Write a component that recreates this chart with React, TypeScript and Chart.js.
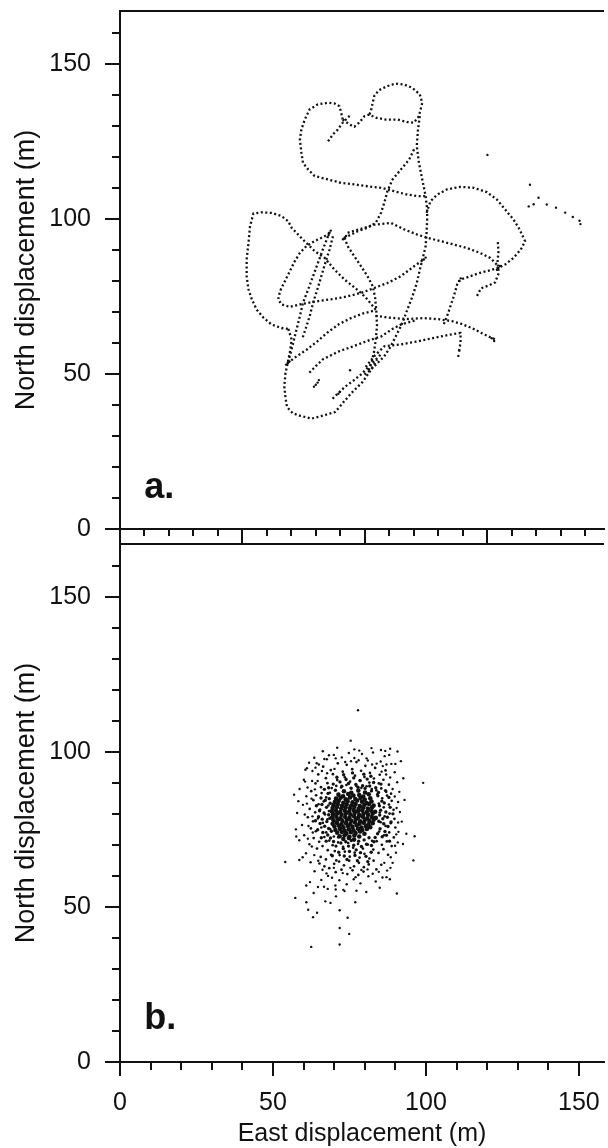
import React, { useEffect, useRef } from 'react';
import { Chart, registerables } from 'chart.js';

Chart.register(...registerables);

const INK = '#111111';
const FONT = '"Liberation Sans", Arial, Helvetica, sans-serif';

// ---------- axes ----------
const X_MIN = 0;
const X_MAX = 158.2;
const Y_MIN = 0;
const Y_MAX = 167;
const yLabelTicks = [0, 50, 100, 150];
const yMinorTicks = [10, 20, 30, 40, 60, 70, 80, 90, 110, 120, 130, 140, 160];
const xLabelTicks = [0, 50, 100, 150];
const xMinorTicks = [10, 20, 30, 40, 60, 70, 80, 90, 110, 120, 130, 140];
const topXMajorTicks = [0, 40, 80, 120];
const topXMinorTicks = [8, 16, 24, 32, 48, 56, 64, 72, 88, 96, 104, 112, 128, 136, 144, 152];
const xTitle = 'East displacement (m)';
const yTitle = 'North displacement (m)';
const panelLabels = ['a.', 'b.'];

type Pt = [number, number];

// ---------- panel a: dotted track (path vertices) ----------
const trackTail: Pt[] = [[68.0,125.0],[69.6,127.2],[71.2,128.8],[72.8,131.0],[74.4,132.6],[75.5,133.6]];
const trackLeftLobe: Pt[] = [[72.8,132.0],[72.3,134.2],[71.7,136.3],[70.1,137.2],[68.0,137.4],[64.7,136.9],[62.0,135.3],[60.4,132.0],[59.3,128.8],[58.8,125.6],[59.3,121.3],[59.8,118.1],[61.5,115.9],[63.6,113.8],[68.0,112.7],[72.3,111.6],[76.6,111.1],[80.9,110.5],[85.3,110.0],[89.6,108.9],[93.9,107.8],[97.7,107.3],[100.4,107.3]];
const trackHeart: Pt[] = [[72.8,132.0],[75.0,130.4],[76.6,129.7],[78.2,131.0],[79.9,133.1],[81.5,133.6],[83.6,132.6],[86.9,132.0],[90.7,132.0],[93.9,131.2],[96.1,131.0],[97.7,133.1],[98.8,137.4],[98.0,140.1],[95.6,142.2],[92.9,143.3],[90.1,143.6],[87.4,142.8],[84.7,141.5],[83.1,139.6],[82.6,137.4],[82.0,134.7],[81.5,133.6]];
const trackEastDescent: Pt[] = [[98.0,133.1],[97.4,128.8],[97.0,123.4],[97.7,118.1],[98.8,112.7],[99.9,107.3],[100.4,103.0],[100.4,99.8],[100.2,95.5],[99.9,91.2],[99.1,87.9],[98.0,83.6],[97.0,79.3],[95.6,75.0],[93.9,70.7],[92.3,66.4],[90.7,63.2],[88.5,58.9],[86.4,55.7],[84.2,53.5],[82.0,51.4],[79.9,49.8]];
const trackDiagonal: Pt[] = [[96.1,122.4],[94.5,119.1],[91.8,115.9],[89.1,112.7],[87.4,108.9],[86.4,105.2],[85.3,101.9],[83.6,98.7],[80.9,97.1],[77.7,96.0],[75.5,94.9],[73.4,93.9]];
const trackCentreEast: Pt[] = [[74.4,95.5],[78.8,96.8],[83.1,98.1],[88.5,98.7],[92.9,96.6],[97.2,94.9],[100.4,93.9],[104.8,92.8],[109.1,91.7],[113.4,90.6],[117.7,89.0],[121.0,87.4],[123.7,84.7]];
const trackEastLoop: Pt[] = [[100.2,101.9],[101.5,105.7],[103.7,107.8],[106.9,109.5],[111.3,110.3],[115.6,110.0],[119.9,108.6],[123.2,106.2],[125.9,103.0],[128.6,99.8],[130.6,96.6],[132.4,92.8],[131.0,90.1],[128.6,87.4],[125.9,85.3],[123.7,84.2]];
const trackEastReturn: Pt[] = [[123.7,84.2],[121.0,83.4],[117.7,82.6],[114.5,81.5],[111.3,80.4],[110.2,78.8],[109.1,75.0],[108.0,71.8],[106.9,68.6],[105.8,65.9]];
const trackEastStub: Pt[] = [[123.5,92.5],[123.7,89.5],[123.4,86.0],[123.8,82.5],[122.6,79.5],[120.5,78.5],[118.0,77.6],[116.4,74.6]];
const trackWestLoop: Pt[] = [[83.6,70.7],[80.9,74.0],[78.8,76.1],[76.1,78.3],[73.4,80.4],[70.1,83.6],[66.9,87.4],[63.6,89.6],[62.0,91.2],[59.8,93.3],[57.7,95.5],[56.1,97.1],[55.0,99.2],[52.8,100.9],[49.6,101.9],[46.3,102.1],[43.6,101.7],[42.5,97.6],[42.0,92.2],[41.4,86.9],[41.4,81.5],[42.0,77.2],[43.1,74.0],[44.7,70.7],[46.9,68.1],[49.6,65.9],[52.8,64.8],[55.0,64.5]];
const trackInnerLoop: Pt[] = [[68.5,95.5],[66.9,94.4],[63.6,92.8],[60.9,91.2],[58.8,89.0],[57.1,86.3],[55.5,83.1],[53.9,79.9],[52.3,76.7],[51.7,74.0],[52.8,72.4],[55.5,71.6],[58.8,72.4],[62.5,73.1],[66.9,73.8],[70.1,74.2],[74.4,75.0],[78.8,76.1],[83.1,77.7],[87.4,79.3],[91.8,81.5],[96.1,84.7],[99.3,86.9]];
const trackSouthWestA: Pt[] = [[68.0,94.4],[66.3,90.1],[64.7,85.8],[63.1,81.5],[61.5,77.2],[59.8,72.9],[58.8,68.6],[57.7,64.3],[56.6,60.0],[55.5,55.7],[54.8,53.5]];
const trackSouthWestB: Pt[] = [[69.6,94.4],[68.5,90.1],[67.1,85.8],[65.8,81.5],[64.5,77.2],[63.1,72.9],[62.0,68.6],[60.6,64.3],[59.5,61.1]];
const trackSouthLoop: Pt[] = [[55.0,64.5],[56.1,61.1],[55.5,56.8],[54.8,53.5],[54.1,50.3],[53.7,46.0],[54.1,42.2],[54.6,39.3],[56.5,37.3],[58.9,36.5],[62.7,35.6],[66.5,36.6],[70.3,37.7],[72.2,39.9],[75.4,43.6],[79.2,47.3],[81.8,51.0],[84.0,54.6]];
const trackSouthNE: Pt[] = [[54.8,53.5],[57.5,55.5],[61.0,57.8],[64.5,60.5],[68.0,63.5],[71.5,66.0],[75.5,68.0],[79.5,69.5],[83.5,70.5]];
const trackLowerEast: Pt[] = [[61.9,50.4],[64.0,52.5],[66.3,54.7],[71.4,57.2],[76.5,59.0],[81.6,60.9],[85.4,62.1],[89.2,64.6],[92.0,66.0],[96.5,67.2]];
const trackSouthEast: Pt[] = [[83.5,68.7],[86.7,68.3],[90.5,67.9],[94.3,67.7],[99.4,68.0],[104.5,67.6],[108.5,67.0],[111.4,66.2],[115.0,64.8],[118.5,63.0],[121.0,61.8],[122.6,61.2]];
const trackSouthStub: Pt[] = [[80.3,52.2],[83.1,55.7],[86.4,58.9],[91.8,59.5],[97.2,60.5],[102.6,61.6],[108.0,62.7],[111.3,63.2],[111.3,60.0],[110.7,56.8]];
const trackCentreSouth: Pt[] = [[73.4,93.9],[74.4,91.2],[76.6,87.9],[78.8,84.7],[80.9,81.5],[82.6,78.3],[83.4,74.5],[83.8,70.0],[84.0,65.5],[83.6,61.0],[83.0,57.0],[82.2,53.5],[81.0,50.5]];
const trackSouthBlob: Pt[] = [[69.5,42.0],[71.0,43.5],[73.5,45.8],[76.5,48.0],[79.0,50.0],[81.0,52.0],[83.0,54.0],[85.5,56.5]];
const trackClumps: Pt[] = [[68.5,95.5],[68.9,96.2],[68.2,94.8],[73.4,93.9],[73.9,94.5],[72.9,93.4],[54.8,53.5],[55.4,54.0],[54.3,53.0],[123.7,84.2],[124.2,84.8],[123.2,83.6],[99.3,86.9],[99.9,87.5],[110.8,80.0],[111.4,80.8],[64.0,46.5],[64.6,47.2],[63.4,45.9],[65.0,48.0],[71.4,43.6],[71.9,44.2],[75.2,51.2]];
const trackStrays: Pt[] = [[120.1,120.6],[134.0,111.0],[136.8,106.8],[133.6,104.0],[135.2,104.7],[139.5,104.6],[142.5,103.6],[145.5,102.0],[148.0,100.6],[150.2,99.4],[150.5,98.3],[110.9,57.5],[110.6,55.8],[122.3,60.6],[121.5,61.5]];

const trackSegments: Pt[][] = [trackTail, trackLeftLobe, trackHeart, trackEastDescent, trackDiagonal, trackCentreEast, trackEastLoop, trackEastReturn, trackEastStub, trackWestLoop, trackInnerLoop, trackSouthWestA, trackSouthWestB, trackSouthLoop, trackSouthNE, trackLowerEast, trackSouthEast, trackSouthStub, trackCentreSouth, trackSouthBlob];

// ---------- panel b: scatter of positions ----------
const clusterCore: Pt[] = [
[73.2,87.3],[75.6,86.8],[77.9,87.5],[80.1,86.9],
[71.4,86.2],[72.9,85.7],[74.6,86.4],[76.3,85.9],[78.2,86.1],[79.5,85.6],[81.3,86.3],
[70.6,84.9],[72.1,85.2],[73.8,84.7],[75.2,85.3],[76.9,84.8],[78.6,85.1],[80.0,84.6],[81.8,85.0],
[70.2,83.8],[71.5,84.2],[73.0,83.6],[74.4,84.1],[76.0,83.7],[77.5,84.3],[79.1,83.9],[80.6,83.5],[82.2,84.0],
[69.8,82.8],[71.2,83.1],[72.6,82.6],[74.1,83.0],[75.6,82.7],[77.0,83.2],[78.4,82.5],[79.9,82.9],[81.4,83.2],[82.9,82.7],
[69.5,81.9],[70.9,82.2],[72.3,81.7],[73.7,82.1],[75.1,81.8],[76.6,82.3],[78.0,81.6],[79.5,82.0],[81.0,81.7],[82.4,82.1],
[69.2,80.8],[70.6,81.1],[72.0,80.6],[73.5,81.0],[74.9,80.7],[76.4,81.2],[77.8,80.8],[79.2,81.1],[80.7,80.6],[82.1,81.0],[83.4,80.7],
[69.6,79.9],[71.0,80.2],[72.4,79.7],[73.8,80.1],[75.3,79.8],[76.7,80.3],[78.2,79.6],[79.6,80.0],[81.1,79.7],[82.6,80.1],
[69.3,78.8],[70.7,79.1],[72.1,78.6],[73.6,79.0],[75.0,78.7],[76.5,79.2],[77.9,78.8],[79.4,79.1],[80.8,78.6],[82.3,79.0],[83.6,78.7],
[69.8,77.9],[71.3,78.2],[72.7,77.7],[74.2,78.1],[75.6,77.8],[77.1,78.3],[78.5,77.6],[80.0,78.0],[81.5,77.7],[82.9,78.1],
[69.5,76.8],[70.9,77.1],[72.4,76.6],[73.9,77.0],[75.3,76.7],[76.8,77.2],[78.3,76.8],[79.7,77.1],[81.2,76.6],[82.6,77.0],
[70.1,75.9],[71.6,76.2],[73.0,75.7],[74.5,76.1],[76.0,75.8],[77.4,76.3],[78.9,75.6],[80.4,76.0],[81.8,75.7],
[70.4,74.8],[71.9,75.1],[73.4,74.6],[74.8,75.0],[76.3,74.7],[77.8,75.2],[79.2,74.8],[80.7,75.1],
[71.0,73.9],[72.5,74.2],[74.0,73.7],[75.5,74.1],[77.0,73.8],[78.5,74.3],[79.9,73.6],
[71.8,72.8],[73.4,73.1],[75.0,72.6],[76.6,73.0],[78.2,72.7],
[73.0,71.9],[74.8,72.2],[76.5,71.7]];

const clusterCoreEdge: Pt[] = [
[68.2,88.4],[69.7,89.6],[70.4,87.6],[71.9,90.3],[72.5,88.9],[73.9,91.1],[74.7,89.8],[75.5,88.3],[76.4,91.6],[77.1,89.5],[77.8,88.6],[78.5,90.7],[79.3,89.1],
[80.1,88.2],[80.8,91.2],[81.6,89.0],[82.2,87.4],[82.9,90.1],[83.6,88.4],[84.5,86.9],[85.3,89.6],[70.9,91.8],[73.1,92.6],[79.7,92.8],[82.0,92.1],[76.0,93.2],
[68.0,86.6],[67.1,84.4],[68.4,84.9],[66.0,83.0],[67.5,82.1],[68.7,83.4],[65.2,81.0],[66.7,80.3],[68.2,79.7],[64.9,79.1],[66.1,78.3],[67.6,77.5],[68.6,78.6],
[65.4,76.9],[66.9,76.0],[68.2,75.3],[64.6,74.9],[66.3,74.0],[67.9,73.2],[69.1,74.4],[65.8,72.3],[67.4,71.2],[68.8,72.2],[63.9,77.8],[64.2,82.6],[65.7,85.1],[66.8,87.9],
[84.3,85.8],[85.6,84.1],[84.8,82.6],[86.4,83.5],[85.2,81.2],[86.9,80.6],[84.9,79.6],[85.9,78.4],[87.4,78.9],[84.6,77.6],[86.2,76.8],[87.6,75.9],
[85.0,75.2],[86.6,74.3],[84.2,73.6],[85.7,72.6],[87.1,73.1],[83.4,72.4],[88.3,82.1],[88.6,77.4],[87.9,85.3],[86.8,87.5],[88.1,71.2],[89.2,80.0],
[69.8,71.1],[70.6,69.6],[71.4,72.5],[72.2,70.6],[73.0,68.8],[73.8,71.0],[74.7,69.6],[75.6,71.4],[76.4,69.9],[77.2,68.4],[78.0,71.2],[78.9,69.5],[79.8,71.6],
[80.6,70.2],[81.4,72.3],[82.2,69.8],[83.0,71.0],[71.5,67.6],[73.3,66.4],[75.0,67.9],[76.8,66.6],[78.6,67.5],[80.4,66.3],[82.1,67.6],[69.4,66.5],[74.2,65.3],[77.6,64.9],[81.0,64.6]];

const clusterRing: Pt[] = [
[66.4,95.2],[68.9,94.1],[71.2,96.3],[72.8,93.6],[74.1,95.8],[75.9,94.4],[77.3,96.7],[78.8,93.9],[80.2,95.5],[81.7,93.2],[83.4,94.8],[84.9,92.6],[86.8,94.0],
[64.8,92.7],[67.3,91.5],[69.6,92.8],[71.0,90.9],[73.5,91.8],[75.2,90.4],[76.8,92.3],[78.4,90.8],[79.9,91.9],[81.5,90.1],[83.0,91.4],[84.6,89.8],[86.1,91.0],[87.9,89.4],
[63.9,89.8],[65.7,88.6],[67.8,89.9],[69.2,88.3],[70.7,89.0],[72.3,88.5],[74.0,89.3],[75.6,88.2],[77.2,89.1],[78.9,88.4],[80.6,88.9],[82.3,88.0],[83.8,87.6],[85.4,88.2],[87.0,87.1],[88.6,86.5],
[62.5,87.3],[64.1,86.0],[65.9,86.7],[67.4,85.3],[68.6,86.8],[63.2,84.4],[64.9,83.1],[66.6,84.0],[68.1,82.7],[62.0,81.6],[63.8,80.5],[65.4,81.4],[67.0,79.8],[68.3,80.9],
[61.4,78.9],[63.1,77.6],[64.7,78.5],[66.3,77.1],[67.8,78.2],[62.4,75.3],[64.0,74.4],[65.8,75.6],[67.4,74.0],[68.7,75.1],[63.3,72.2],[65.1,71.0],[66.8,72.5],[68.4,71.4],[69.9,72.7],
[64.4,68.8],[66.2,69.6],[67.9,68.3],[69.5,69.9],[65.6,66.1],[67.3,65.3],[69.0,66.8],[70.7,65.0],
[84.1,86.3],[85.7,85.0],[87.3,85.9],[88.8,84.2],[84.6,83.3],[86.2,82.1],[87.9,83.0],[89.4,81.3],[84.9,80.4],[86.5,79.2],[88.1,80.1],[89.7,78.4],[85.2,77.3],[86.8,76.1],
[88.5,77.0],[90.0,75.6],[84.7,74.3],[86.3,73.1],[88.0,74.0],[89.5,72.4],[83.9,71.2],[85.6,70.0],[87.2,71.1],[88.8,69.6],[82.8,68.5],[84.5,67.4],[86.1,68.6],[87.6,66.8],
[71.3,70.8],[72.9,69.4],[74.6,70.6],[76.2,69.1],[77.8,70.3],[79.4,68.8],[81.0,70.1],[82.4,71.3],[70.2,68.0],[71.8,66.7],[73.5,67.8],[75.1,66.2],[76.7,67.5],[78.3,65.9],
[79.9,67.1],[81.5,65.6],[70.0,63.9],[71.6,64.6],[73.2,63.4],[74.9,64.9],[76.5,63.1],[78.1,64.2],[79.7,62.8],[81.3,63.7],[82.9,64.9],[68.4,62.5],[70.5,61.2],[72.4,62.0],
[74.3,60.6],[76.0,61.8],[77.9,60.3],[79.6,61.4],[66.8,63.1],[65.2,64.0],[83.8,62.1],[85.4,63.6]];

const clusterHalo: Pt[] = [
[61.8,96.5],[63.5,98.1],[65.0,95.9],[67.6,97.6],[69.9,99.0],[72.5,98.2],[74.8,99.6],[76.6,98.0],[79.1,99.3],[81.0,97.2],[82.7,99.8],[85.2,96.9],[86.5,98.6],[88.7,96.1],
[89.8,93.4],[90.6,90.2],[91.3,87.1],[90.9,83.8],[91.5,80.6],[92.1,77.5],[91.0,74.2],[90.8,70.8],[90.2,67.5],[89.1,64.2],[87.3,61.7],[85.8,59.5],[83.6,58.2],[81.2,59.9],
[78.6,57.6],[76.4,58.9],[74.1,57.3],[71.7,58.6],[69.3,59.4],[67.5,60.8],[65.8,58.7],[63.6,61.5],[62.3,64.4],[60.8,67.3],[61.9,70.2],[60.2,73.1],[59.5,76.4],[60.4,79.8],
[59.8,82.9],[60.9,85.7],[61.3,88.5],[60.1,91.0],[62.9,93.8],[58.7,88.0],[58.3,84.1],[57.9,80.3],[58.6,71.5],[59.7,66.0],[62.1,58.0],[64.7,56.4],[67.9,55.8],[70.4,56.9],
[73.0,55.5],[77.3,55.2],[80.5,54.8],[84.9,56.2],[88.2,58.9],[92.5,70.3],[93.0,84.5],[92.6,91.5],[88.0,99.0],[71.0,101.3],[66.3,100.2],[60.6,94.2],[57.5,75.0],[56.9,86.2],
[62.8,90.6],[63.7,87.9],[62.6,84.9],[61.1,83.3],[62.9,79.2],[61.6,76.1],[63.0,74.0],[61.4,72.0],[62.7,69.5],[63.5,66.7],[64.8,64.9],[66.2,62.0],[68.0,60.0],[69.9,62.6],
[72.8,60.9],[75.3,62.6],[77.0,59.6],[78.9,61.9],[80.9,62.1],[82.6,60.7],[84.6,61.3],[86.4,64.2],[88.5,66.0],[89.9,69.7],[90.3,73.4],[90.9,77.2],[90.4,81.9],[89.8,85.6],
[89.1,88.0],[88.3,91.7],[87.0,92.7],[85.5,93.6],[83.9,96.2],[82.4,95.9],[80.6,97.9],[78.0,97.3],[75.5,97.0],[73.6,96.7],[70.5,97.9],[68.3,98.9],[66.0,93.8],[64.6,90.6],
[67.7,93.1],[70.1,94.5],[85.9,95.4],[90.0,96.1],[86.7,100.3],[63.9,94.9]];

const clusterOutliers: Pt[] = [
[77.8,113.4],[75.4,103.6],[76.6,100.8],[78.2,100.4],[82.2,101.2],[85.3,100.6],[88.3,101.0],[90.7,100.1],[91.8,97.0],[99.1,90.0],[95.9,65.0],[96.3,72.8],[93.6,73.6],
[90.5,54.3],[54.0,64.5],[57.3,52.9],[60.9,51.5],[61.5,49.1],[64.4,48.1],[63.1,46.7],[67.1,51.8],[68.8,51.3],[70.6,53.4],[71.8,48.9],[76.9,51.5],[74.4,46.5],[71.8,43.2],
[74.9,41.3],[62.5,37.1],[71.8,37.9],[60.9,56.9],[63.3,54.5],[66.7,56.5],[70.5,55.6],[73.4,55.1],[57.6,72.7],[58.6,65.1],[60.5,90.4],[61.1,94.7],[64.3,96.3],[66.8,97.7],
[87.1,95.9],[88.4,62.6],[87.1,59.6]];

// ---------- helpers ----------
const toXY = (pts: Pt[]) => pts.map(([x, y]) => ({ x, y }));
const TRANSPARENT = 'rgba(0,0,0,0)';

const axisDecor = {
  id: 'axisDecor',
  afterDraw(chart: any, _args: any, o: any) {
    const { ctx, chartArea: a } = chart;
    const xs = chart.scales.x;
    const ys = chart.scales.y;
    const seg = (x1: number, y1: number, x2: number, y2: number, w: number) => {
      ctx.lineWidth = w;
      ctx.beginPath();
      ctx.moveTo(x1, y1);
      ctx.lineTo(x2, y2);
      ctx.stroke();
    };
    ctx.save();
    ctx.strokeStyle = INK;
    ctx.lineCap = 'butt';
    const top = Math.round(a.top);
    seg(Math.round(a.left) - 1, top, a.right, top, 2);
    const left = Math.round(a.left);
    const bottom = Math.round(a.bottom);
    for (const v of o.yMinor) { const y = Math.round(ys.getPixelForValue(v)); seg(left - o.yMinorLen, y, left, y, 2); }
    for (const v of o.yMajor) { const y = Math.round(ys.getPixelForValue(v)); seg(left - o.yMajorLen, y, left, y, 2); }
    for (const v of o.xMinor) { const x = Math.round(xs.getPixelForValue(v)); seg(x, bottom, x, bottom + o.xMinorLen, 2); }
    for (const v of o.xMajor) { const x = Math.round(xs.getPixelForValue(v)); seg(x, bottom, x, bottom + o.xMajorLen, 2); }
    ctx.fillStyle = INK;
    ctx.font = `bold ${o.labelSize}px ${FONT}`;
    ctx.textAlign = 'left';
    ctx.textBaseline = 'alphabetic';
    ctx.fillText(o.label, xs.getPixelForValue(o.labelAt[0]), ys.getPixelForValue(o.labelAt[1]));
    ctx.restore();
  },
};

function yScale() {
  return {
    type: 'linear',
    min: Y_MIN,
    max: Y_MAX,
    afterBuildTicks: (s: any) => { s.ticks = yLabelTicks.map((v) => ({ value: v })); },
    afterFit: (s: any) => { s.width = 120; s.paddingTop = 0; s.paddingBottom = 0; },
    grid: { display: true, drawOnChartArea: false, drawTicks: true, tickLength: 29, tickColor: TRANSPARENT },
    border: { display: true, color: INK, width: 2 },
    ticks: { padding: 0, color: INK, font: { family: FONT, size: 25 } },
    title: { display: true, text: yTitle, color: INK, font: { family: FONT, size: 27 }, padding: { top: 10, bottom: 0 } },
  };
}

function xScale(withLabels: boolean, height: number) {
  return {
    type: 'linear',
    min: X_MIN,
    max: X_MAX,
    afterBuildTicks: (s: any) => { s.ticks = xLabelTicks.map((v) => ({ value: v })); },
    afterFit: (s: any) => { s.height = height; s.paddingLeft = 0; s.paddingRight = 0; },
    grid: { display: true, drawOnChartArea: false, drawTicks: true, tickLength: 26, tickColor: TRANSPARENT },
    border: { display: true, color: INK, width: 2 },
    ticks: { display: withLabels, padding: 0, color: INK, maxRotation: 0, autoSkip: false, font: { family: FONT, size: 25 } },
    title: { display: withLabels, text: xTitle, color: INK, font: { family: FONT, size: 25 }, padding: { top: 0, bottom: 21 } },
  };
}

function baseOptions(padTop: number, xs: any, decor: any) {
  return {
    animation: false,
    responsive: false,
    devicePixelRatio: 1,
    events: [],
    layout: { padding: { top: padTop, left: 0, right: 0, bottom: 0 } },
    plugins: { legend: { display: false }, tooltip: { enabled: false }, axisDecor: decor },
    scales: { x: xs, y: yScale() },
  };
}

function topConfig(): any {
  const lineSets = trackSegments.map((seg) => ({
    data: toXY(seg),
    showLine: true,
    borderColor: INK,
    borderWidth: 2.3,
    borderDash: [2, 2.5],
    pointRadius: 0,
    tension: 0,
    fill: false,
  }));
  const dotSets = [trackClumps, trackStrays].map((pts) => ({
    data: toXY(pts),
    showLine: false,
    pointRadius: 1.2,
    pointBorderWidth: 0,
    pointBackgroundColor: INK,
  }));
  return {
    type: 'scatter',
    data: { datasets: [...lineSets, ...dotSets] },
    options: baseOptions(11, xScale(false, 19), {
      yMinor: yMinorTicks, yMajor: yLabelTicks, yMinorLen: 8, yMajorLen: 15,
      xMinor: topXMinorTicks, xMajor: topXMajorTicks, xMinorLen: 7, xMajorLen: 15,
      label: panelLabels[0], labelAt: [7.9, 10.1], labelSize: 36,
    }),
    plugins: [axisDecor],
  };
}

function bottomConfig(): any {
  const sets: [Pt[], number][] = [[clusterCore, 2.3], [clusterCoreEdge, 1.7], [clusterRing, 1.35], [clusterHalo, 1.2], [clusterOutliers, 1.2]];
  return {
    type: 'scatter',
    data: {
      datasets: sets.map(([pts, r]) => ({
        data: toXY(pts),
        showLine: false,
        pointRadius: r,
        pointBorderWidth: 0,
        pointBackgroundColor: INK,
      })),
    },
    options: baseOptions(4, xScale(true, 108), {
      yMinor: yMinorTicks, yMajor: yLabelTicks, yMinorLen: 8, yMajorLen: 15,
      xMinor: xMinorTicks, xMajor: xLabelTicks, xMinorLen: 8, xMajorLen: 14,
      label: panelLabels[1], labelAt: [7.9, 10.7], labelSize: 36,
    }),
    plugins: [axisDecor],
  };
}

function Panel({ build, top, height }: { build: () => any; top: number; height: number }) {
  const ref = useRef<HTMLCanvasElement>(null);
  useEffect(() => {
    const chart = new Chart(ref.current as HTMLCanvasElement, build());
    return () => chart.destroy();
  }, []);
  return (
    <canvas
      ref={ref}
      width={608}
      height={height}
      style={{ position: 'absolute', left: 0, top, width: 608, height }}
    />
  );
}

export default function App() {
  return (
    <div style={{ position: 'absolute', left: 0, top: 0, width: 608, height: 1148, overflow: 'hidden', background: '#fff' }}>
      <Panel build={topConfig} top={0} height={548} />
      <Panel build={bottomConfig} top={540} height={630} />
    </div>
  );
}
